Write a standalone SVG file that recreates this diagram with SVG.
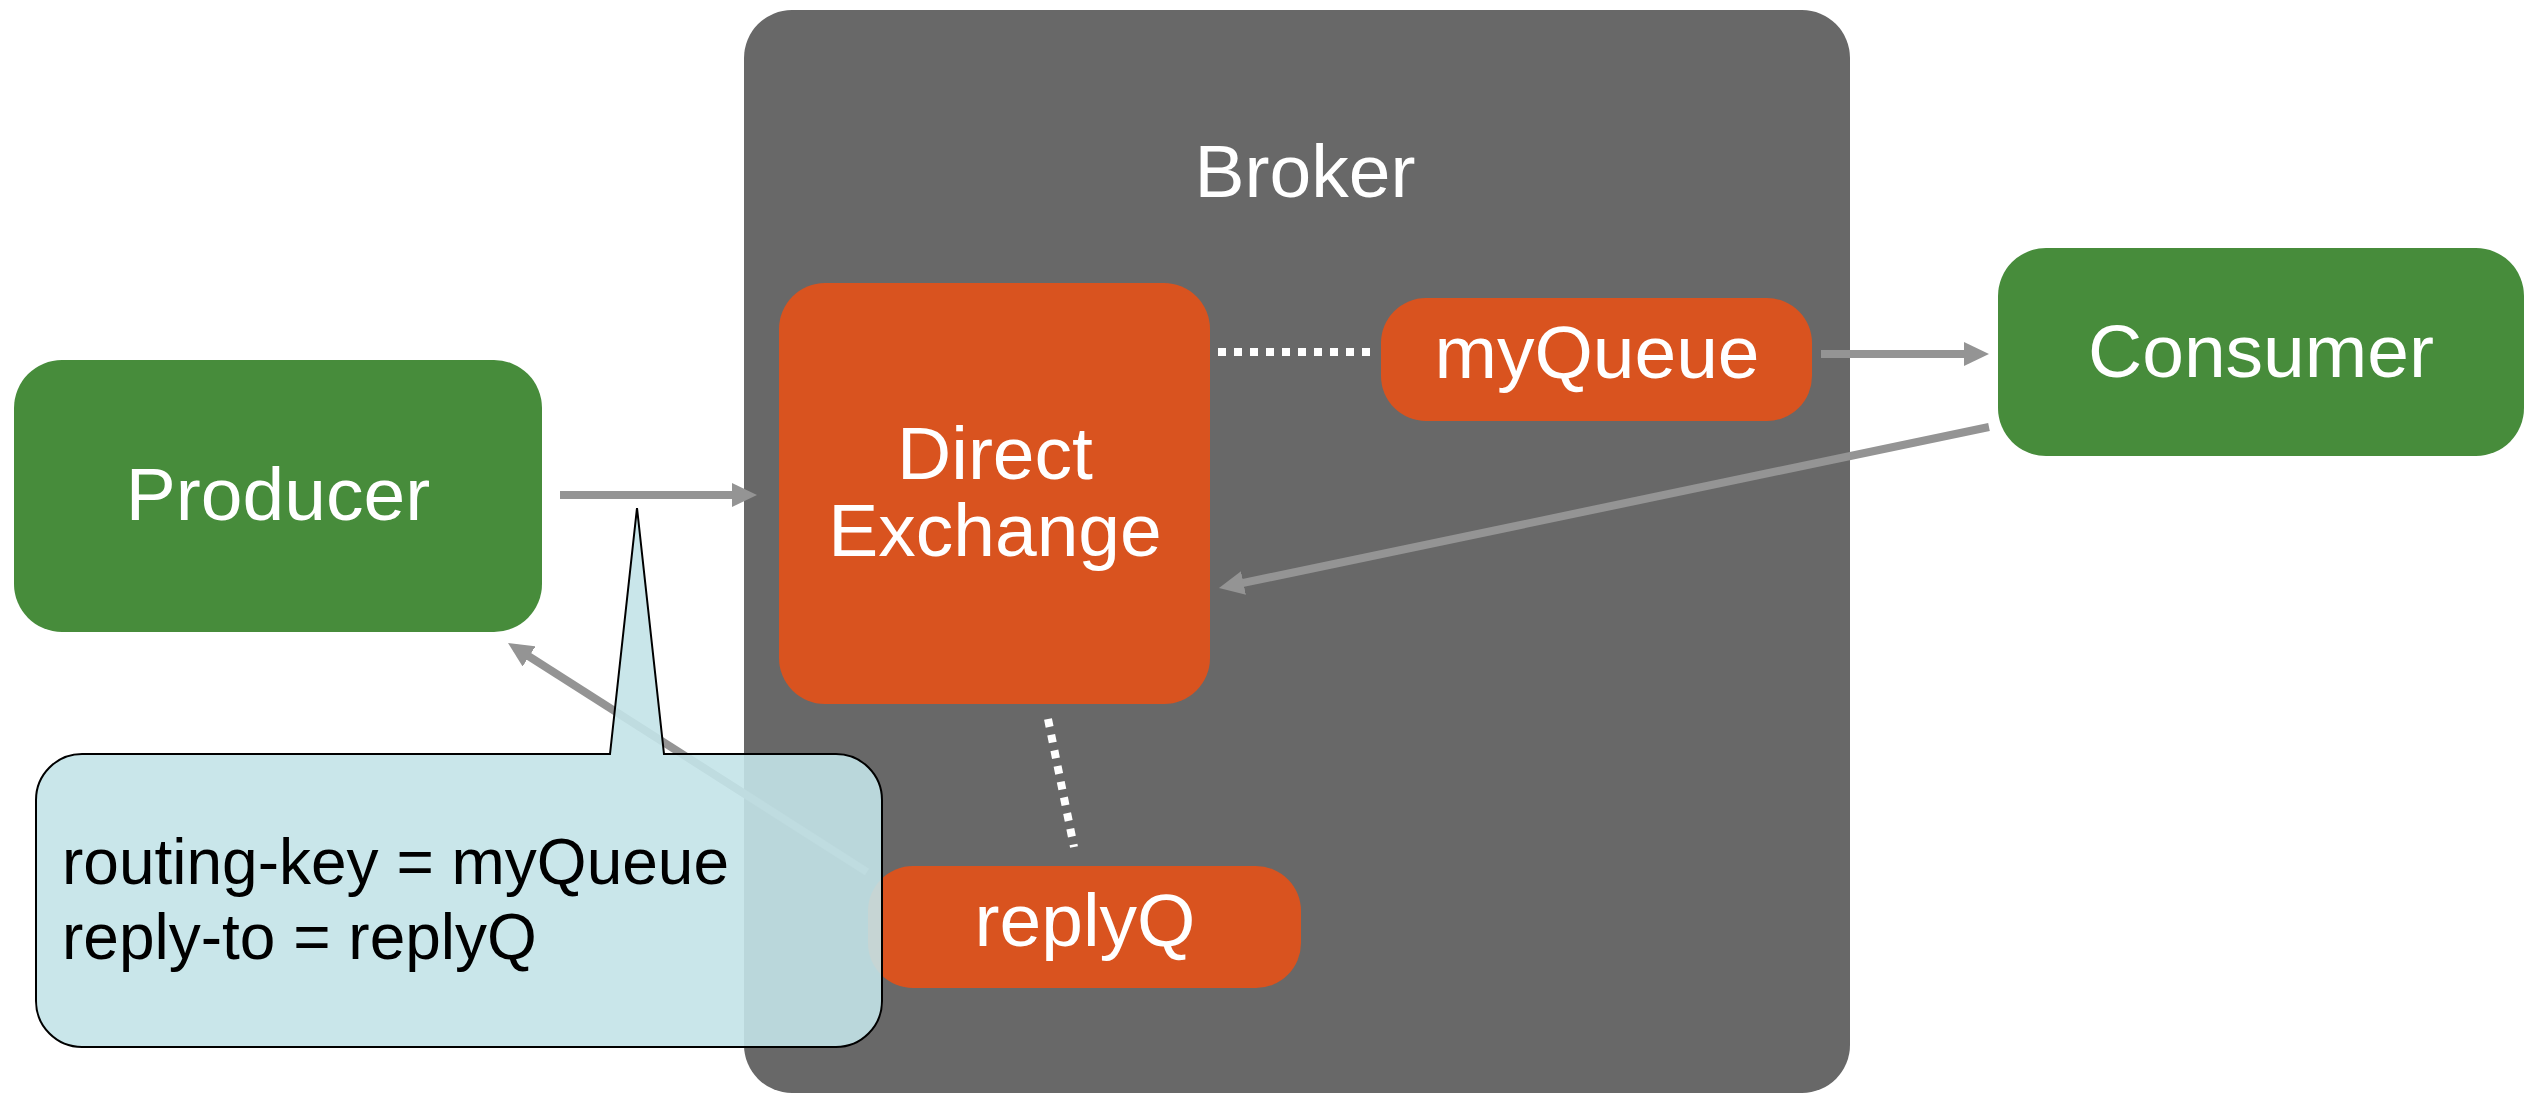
<svg xmlns="http://www.w3.org/2000/svg" width="2538" height="1094" viewBox="0 0 2538 1094">
  <style>
    .label { font-family: "Liberation Sans", Arial, sans-serif; font-size: 75px; fill: #ffffff; text-anchor: middle; }
    .note { font-family: "Liberation Sans", Arial, sans-serif; font-size: 64px; fill: #000000; }
    .client { fill: #478c3b; }
    .amqp { fill: #d9531f; }
    .flow { stroke: #949494; stroke-width: 8; fill: none; marker-end: url(#arrow); }
    .binding { stroke: #ffffff; stroke-width: 8; stroke-dasharray: 8 8; fill: none; }
  </style>
  <defs>
    <marker id="arrow" markerUnits="userSpaceOnUse" markerWidth="25" markerHeight="24" refX="16" refY="12" orient="auto">
      <path d="M0,0 L25,12 L0,24 Z" fill="#949494"/>
    </marker>
  </defs>

  <rect width="2538" height="1094" fill="#ffffff"/>

  <g id="broker">
    <rect x="744" y="10" width="1106" height="1083" rx="48" ry="48" fill="#686868"/>
    <text class="label" x="1305" y="197">Broker</text>
  </g>

  <g id="direct-exchange">
    <rect class="amqp" x="779" y="283" width="431" height="421" rx="46" ry="46"/>
    <text class="label" x="995" y="479">Direct</text>
    <text class="label" x="995" y="556">Exchange</text>
  </g>

  <g id="my-queue">
    <rect class="amqp" x="1381" y="298" width="431" height="123" rx="45" ry="45"/>
    <text class="label" x="1597" y="378">myQueue</text>
  </g>

  <g id="reply-q">
    <rect class="amqp" x="868" y="866" width="433" height="122" rx="45" ry="45"/>
    <text class="label" x="1085" y="946">replyQ</text>
  </g>

  <g id="producer">
    <rect class="client" x="14" y="360" width="528" height="272" rx="48" ry="48"/>
    <text class="label" x="278" y="520">Producer</text>
  </g>

  <g id="consumer">
    <rect class="client" x="1998" y="248" width="526" height="208" rx="48" ry="48"/>
    <text class="label" x="2261" y="377">Consumer</text>
  </g>

  <g id="connectors">
    <line class="binding" x1="1218" y1="352" x2="1370" y2="352"/>
    <line class="binding" x1="1048" y1="719" x2="1074" y2="847"/>
    <line class="flow" x1="560" y1="495" x2="748" y2="495"/>
    <line class="flow" x1="1821" y1="354" x2="1980" y2="354"/>
    <line class="flow" x1="1989" y1="427" x2="1227.8" y2="586.2"/>
    <line class="flow" x1="867" y1="872" x2="515.6" y2="647.8"/>
  </g>

  <g id="message-note">
    <path d="M82,754 L610,754 L637,508 L664,754 L836,754 A46,46 0 0 1 882,800 L882,1001 A46,46 0 0 1 836,1047 L82,1047 A46,46 0 0 1 36,1001 L36,800 A46,46 0 0 1 82,754 Z" fill="#c3e3e8" fill-opacity="0.9" stroke="#000000" stroke-width="2" stroke-linejoin="miter"/>
    <text class="note" x="62" y="884">routing-key = myQueue</text>
    <text class="note" x="62" y="959">reply-to = replyQ</text>
  </g>
</svg>
